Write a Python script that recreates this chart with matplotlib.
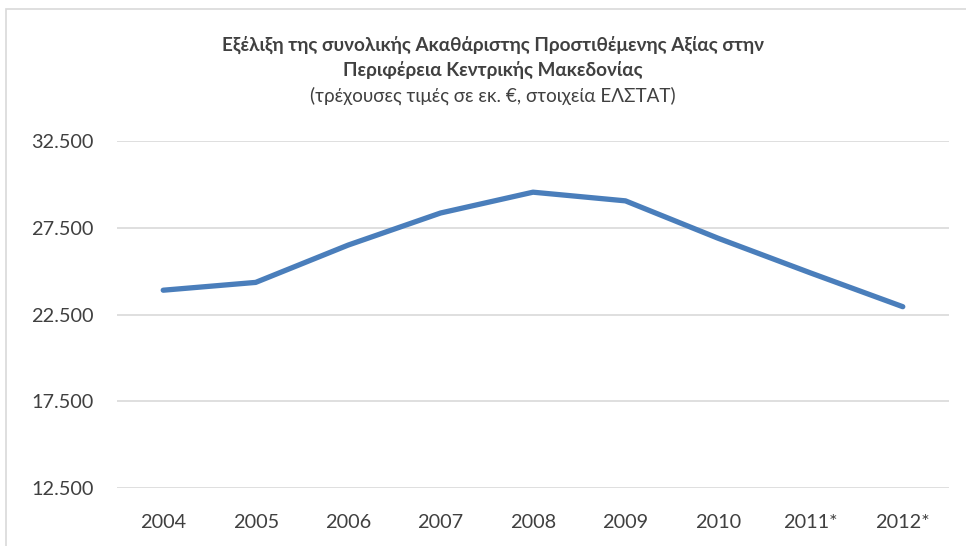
"""Gross value added, Central Macedonia region, 2004-2012 (line chart)."""

import matplotlib.pyplot as plt
from matplotlib.patches import Rectangle
from matplotlib.ticker import FuncFormatter

years = ["2004", "2005", "2006", "2007", "2008", "2009", "2010", "2011*", "2012*"]
gva = [23900, 24350, 26500, 28350, 29550, 29050, 26900, 24900, 22950]
y_ticks = [12500, 17500, 22500, 27500, 32500]

FONT = ["Lato", "DejaVu Sans"]
plt.rcParams["font.family"] = FONT

fig = plt.figure(figsize=(9.66, 5.46), dpi=100)
fig.patch.set_facecolor("white")

# chart frame (the picture is cropped at right and bottom)
fig.patches.append(Rectangle((5.5 / 966, -0.2), 1.2, 1.2 - 8.5 / 546,
                             transform=fig.transFigure, fill=False,
                             edgecolor="#d9d9d9", linewidth=1.2))

ax = fig.add_axes([117 / 966, 1 - 488 / 546, 832 / 966, 347 / 546])
x = range(len(years))
ax.plot(x, gva, color="#4a7ebb", linewidth=3.8, solid_capstyle="round",
        solid_joinstyle="round")

ax.set_xlim(-0.5, len(years) - 0.5)
ax.set_ylim(12500, 32500)
ax.set_yticks(y_ticks)
ax.yaxis.set_major_formatter(FuncFormatter(lambda v, _: f"{v:,.0f}".replace(",", ".")))
ax.set_xticks(list(x))
ax.set_xticklabels(years)
ax.grid(axis="y", color="#d9d9d9", linewidth=1.2)
ax.set_axisbelow(True)
for side in ax.spines.values():
    side.set_visible(False)
ax.tick_params(length=0, labelsize=14.3, colors="#404040")
ax.tick_params(axis="y", pad=17)
ax.tick_params(axis="x", pad=19)

title_kw = dict(ha="center", va="center", fontsize=13.6, color="#404040")
fig.text(493 / 966, 1 - 45 / 546, "Εξέλιξη της συνολικής Ακαθάριστης Προστιθέμενης Αξίας στην",
         fontweight="bold", **title_kw)
fig.text(493 / 966, 1 - 70 / 546, "Περιφέρεια Κεντρικής Μακεδονίας",
         fontweight="bold", **title_kw)
fig.text(493 / 966, 1 - 96 / 546, "(τρέχουσες τιμές σε εκ. €, στοιχεία ΕΛΣΤΑΤ)", **title_kw)

fig.savefig("out.png", dpi=100)
